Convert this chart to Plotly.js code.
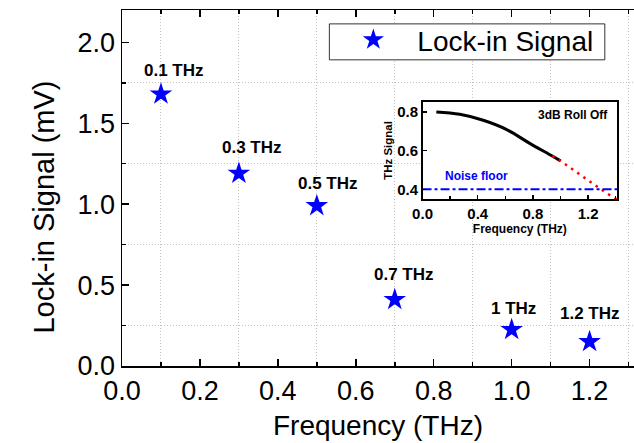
<!DOCTYPE html>
<html>
<head>
<meta charset="utf-8">
<script src="https://cdn.plot.ly/plotly-3.0.1.min.js"></script>
<style>html,body{margin:0;padding:0;background:#fff}#chart{width:634px;height:443px}</style>
</head>
<body>
<div id="chart"></div>
<script>
// Main data
var freq = [0.1, 0.3, 0.5, 0.7, 1.0, 1.2];
var lockin = [1.68, 1.19, 0.99, 0.41, 0.225, 0.15];
var pointLabels = ['0.1 THz', '0.3 THz', '0.5 THz', '0.7 THz', '1 THz', '1.2 THz'];

// Inset data
var rollFreq = [0.1, 0.27, 0.44, 0.61, 0.78, 0.94, 1.0];
var rollSignal = [0.80, 0.788, 0.757, 0.709, 0.636, 0.572, 0.547];
var extFreq = [0.94, 1.0, 1.056, 1.111, 1.162, 1.217, 1.271, 1.326, 1.382, 1.41];
var extSignal = [0.572, 0.547, 0.519, 0.491, 0.466, 0.438, 0.410, 0.384, 0.359, 0.346];
var noiseFreq = [0, 1.41];
var noiseLevel = [0.4, 0.4];

// label offsets (style, px)
var labelDx = [13, 13, 11, 9, 2, 0];
var labelDy = [24, 26, 22, 25, 21, 28];

var FONT = 'Liberation Sans, Arial, sans-serif';

var traces = [
  {x: freq, y: lockin, type: 'scatter', mode: 'markers', name: 'Lock-in Signal',
   marker: {symbol: 'star', size: 17, color: '#0000ff', line: {width: 0}},
   xaxis: 'x', yaxis: 'y'},
  {x: rollFreq, y: rollSignal, type: 'scatter', mode: 'lines', showlegend: false,
   line: {color: '#000', width: 3, shape: 'spline'}, xaxis: 'x2', yaxis: 'y2'},
  {x: extFreq, y: extSignal, type: 'scatter', mode: 'lines', showlegend: false,
   line: {color: '#ff0000', width: 2.5, dash: '2.5px,5px'}, xaxis: 'x2', yaxis: 'y2'},
  {x: noiseFreq, y: noiseLevel, type: 'scatter', mode: 'lines', showlegend: false,
   line: {color: '#0000ff', width: 2, dash: 'dashdot'}, xaxis: 'x2', yaxis: 'y2'}
];

var annotations = freq.map(function (f, i) {
  return {x: f, y: lockin[i], xref: 'x', yref: 'y', text: pointLabels[i], showarrow: false,
    xshift: labelDx[i], yshift: labelDy[i],
    font: {family: FONT, size: 17, color: '#000', weight: 'bold'}};
});
annotations.push({x: 1.09, y: 0.783, xref: 'x2', yref: 'y2', text: '3dB Roll Off', showarrow: false,
  font: {family: FONT, size: 12, color: '#000', weight: 'bold'}});
annotations.push({x: 0.394, y: 0.469, xref: 'x2', yref: 'y2', text: 'Noise floor', showarrow: false,
  font: {family: FONT, size: 12, color: '#0000ff', weight: 'bold'}});
annotations.push({x: -0.153, y: 0.447, xref: 'paper', yref: 'paper', xanchor: 'center', yanchor: 'middle',
  text: 'Lock-in Signal (mV)', textangle: -90, showarrow: false,
  font: {family: FONT, size: 29, color: '#000'}});

var layout = {
  width: 634, height: 443,
  margin: {l: 121.5, r: 0, t: 10, b: 77},
  paper_bgcolor: '#fff', plot_bgcolor: '#fff',
  font: {family: FONT, color: '#000'},
  showlegend: true,
  legend: {x: 0.405, y: 0.986, xanchor: 'left', yanchor: 'top', bgcolor: 'rgba(0,0,0,0)',
    borderwidth: 0, font: {family: FONT, size: 28, color: '#000'},
    itemwidth: 78},
  shapes: [
    {type: 'rect', xref: 'paper', yref: 'paper', x0: 0.405, x1: 0.943, y0: 0.86, y1: 0.961,
     layer: 'above', fillcolor: '#fff', line: {color: '#333', width: 1}}
  ],
  xaxis: {range: [0, 1.314], dtick: 0.2, tick0: 0, tickformat: '.1f', ticks: 'inside', ticklen: 7,
    tickwidth: 1.5, tickcolor: '#000', showline: true, linecolor: '#000', linewidth: 1.5,
    mirror: 'ticks', showgrid: false, zeroline: false,
    tickfont: {family: FONT, size: 27, color: '#000'},
    title: {text: 'Frequency (THz)', font: {family: FONT, size: 28, color: '#000'}, standoff: 10},
    minor: {dtick: 0.1, tick0: 0, ticks: 'inside', ticklen: 4, tickwidth: 1.5, tickcolor: '#000',
      showgrid: true, gridcolor: '#c4c4c4', griddash: '1px,2px', gridwidth: 1},
    domain: [0, 1], anchor: 'y'},
  yaxis: {range: [0, 2.2], dtick: 0.5, tick0: 0, tickformat: '.1f', ticks: 'inside', ticklen: 7,
    tickwidth: 1.5, tickcolor: '#000', showline: true, linecolor: '#000', linewidth: 1.5,
    showgrid: false, zeroline: false,
    tickfont: {family: FONT, size: 27, color: '#000'},
    minor: {dtick: 0.25, tick0: 0, ticks: 'inside', ticklen: 4, tickwidth: 1.5, tickcolor: '#000',
      showgrid: true, gridcolor: '#c4c4c4', griddash: '1px,2px', gridwidth: 1},
    domain: [0, 1], anchor: 'x'},
  xaxis2: {domain: [0.587, 0.967], anchor: 'y2', range: [0, 1.41], dtick: 0.4, tick0: 0,
    tickformat: '.1f', ticks: 'inside', ticklen: 4, tickwidth: 1.5, tickcolor: '#000',
    showline: true, linecolor: '#000', linewidth: 1.5, mirror: true, showgrid: false, zeroline: false,
    tickfont: {family: FONT, size: 15, color: '#000', weight: 'bold'},
    minor: {dtick: 0.2, tick0: 0, ticks: 'inside', ticklen: 3, tickwidth: 1.5, tickcolor: '#000'},
    title: {text: 'Frequency (THz)', font: {family: FONT, size: 12, color: '#000', weight: 'bold'}, standoff: 2}},
  yaxis2: {domain: [0.469, 0.742], anchor: 'x2', range: [0.35, 0.852], dtick: 0.2, tick0: 0,
    tickformat: '.1f', ticks: 'inside', ticklen: 4, tickwidth: 1.5, tickcolor: '#000',
    showline: true, linecolor: '#000', linewidth: 1.5, mirror: true, showgrid: false, zeroline: false,
    tickfont: {family: FONT, size: 15, color: '#000', weight: 'bold'},
    title: {text: 'THz Signal', font: {family: FONT, size: 11.5, color: '#000', weight: 'bold'}, standoff: 2}},
  annotations: annotations
};

Plotly.newPlot('chart', traces, layout, {displayModeBar: false, staticPlot: true});
</script>
</body>
</html>
